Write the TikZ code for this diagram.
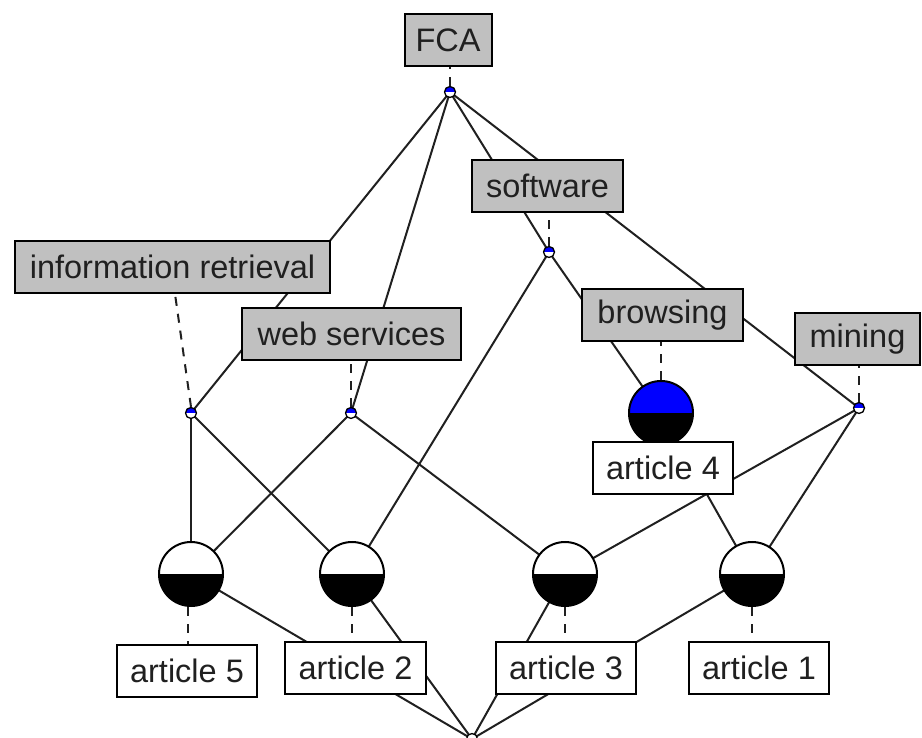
\documentclass[tikz,border=0pt]{standalone}
\usepackage{fontspec}
\setmainfont{Liberation Sans}
\definecolor{boxgray}{HTML}{C0C0C0}
\definecolor{ink}{HTML}{202020}
\begin{document}
\begin{tikzpicture}[x=1pt,y=-1pt,
  edge/.style={line width=2pt,draw=ink},
  dashedge/.style={line width=2pt,draw=ink,dash pattern=on 9pt off 8pt},
  lab/.style={rectangle,draw=black,line width=2pt,fill=boxgray,inner sep=0pt,
    minimum height=52pt,font=\fontsize{32.5}{38}\selectfont,text=ink},
  obj/.style={lab,fill=white},
  smallc/.style={circle,draw=black,line width=1.3pt,minimum size=11pt,inner sep=0pt,
    fill=blue,path picture={\fill[white] (path picture bounding box.west) rectangle (path picture bounding box.south east);}},
  bigc/.style={circle,draw=black,line width=2pt,minimum size=64pt,inner sep=0pt,
    fill=white,path picture={\fill[black] (path picture bounding box.west) rectangle (path picture bounding box.south east);}},
]
\useasboundingbox (0,0) rectangle (922,738);
\clip (0,0) rectangle (922,738);
\fill[white] (0,0) rectangle (922,738);
% lattice points
\coordinate (cT) at (450,92);
\coordinate (cS) at (549,252);
\coordinate (cIR) at (191,413);
\coordinate (cWS) at (351,413);
\coordinate (cB) at (661,413);
\coordinate (cM) at (859,408);
\coordinate (cA5) at (191,574);
\coordinate (cA2) at (352,574);
\coordinate (cA3) at (565,574);
\coordinate (cA1) at (752,574);
\coordinate (cZ) at (472,739);
% edges
\draw[edge] (cT) -- (cIR);
\draw[edge] (cT) -- (cWS);
\draw[edge] (cT) -- (cS);
\draw[edge] (cT) -- (cM);
\draw[edge] (cS) -- (cB);
\draw[edge] (cS) -- (cA2);
\draw[edge] (cIR) -- (cA5);
\draw[edge] (cIR) -- (cA2);
\draw[edge] (cWS) -- (cA5);
\draw[edge] (cWS) -- (cA3);
\draw[edge] (cM) -- (cA3);
\draw[edge] (cM) -- (cA1);
\draw[edge] (cB) -- (cA1);
\draw[edge] (cA5) -- (cZ);
\draw[edge] (cA2) -- (cZ);
\draw[edge] (cA3) -- (cZ);
\draw[edge] (cA1) -- (cZ);
% concept circles
\node[smallc] (T) at (cT) {};
\node[smallc] (S) at (cS) {};
\node[smallc] (IR) at (cIR) {};
\node[smallc] (WS) at (cWS) {};
\node[smallc] (M) at (cM) {};
\node[smallc,fill=white] (Z) at (cZ) {};
\node[bigc] (A5) at (cA5) {};
\node[bigc] (A2) at (cA2) {};
\node[bigc] (A3) at (cA3) {};
\node[bigc] (A1) at (cA1) {};
\node[bigc,fill=blue] (B) at (cB) {};
% labels
\node[lab,minimum width=87pt] (lFCA) at (448,40) {FCA};
\node[lab,minimum width=151pt] (lS) at (547.5,186) {software};
\node[lab,minimum width=315pt] (lIR) at (172.5,267) {information retrieval};
\node[lab,minimum width=219pt] (lWS) at (351.5,334) {web services};
\node[lab,minimum width=161pt] (lB) at (662.5,315) {browsing};
\node[lab,minimum width=125pt] (lM) at (857.5,339.5) {mining};
\node[obj,minimum width=140pt] (l4) at (663,467.5) {article 4};
\node[obj,minimum width=140pt] (l5) at (187,670.5) {article 5};
\node[obj,minimum width=141pt] (l2) at (355.5,668) {article 2};
\node[obj,minimum width=140pt] (l3) at (566,668) {article 3};
\node[obj,minimum width=140pt] (l1) at (759,668) {article 1};
% dashed label connectors
\draw[dashedge] (T.north) -- (T.north |- lFCA.south);
\draw[dashedge] (S.north) -- (S.north |- lS.south);
\draw[dashedge] (IR.north) -- ([xshift=2.5pt]lIR.south);
\draw[dashedge] (WS.north) -- (WS.north |- lWS.south);
\draw[dashedge] (B.north) -- (B.north |- lB.south);
\draw[dashedge] (M.north) -- (M.north |- lM.south);
\draw[dashedge] ([xshift=-3pt]A5.south) -- ([xshift=-3pt]A5.south |- l5.north);
\draw[dashedge] (A2.south) -- (A2.south |- l2.north);
\draw[dashedge] (A3.south) -- (A3.south |- l3.north);
\draw[dashedge] (A1.south) -- (A1.south |- l1.north);
\end{tikzpicture}
\end{document}
